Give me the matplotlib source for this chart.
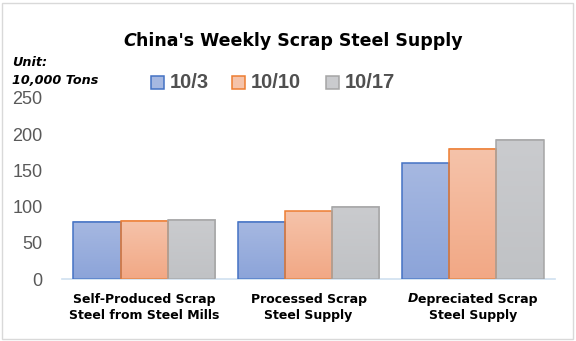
import numpy as np
import matplotlib
matplotlib.use("Agg")
import matplotlib.pyplot as plt
from matplotlib.patches import Rectangle
from matplotlib.colors import LinearSegmentedColormap

# ---- data (10,000 tons) ----
categories = ["Self-Produced Scrap\nSteel from Steel Mills",
              "Processed Scrap\nSteel Supply",
              "Depreciated Scrap\nSteel Supply"]
weeks = ["10/3", "10/10", "10/17"]
supply_10_3 = [79, 79, 160]
supply_10_10 = [80.5, 93.5, 180]
supply_10_17 = [82, 100, 192.5]
series = [supply_10_3, supply_10_10, supply_10_17]
yticks = [0, 50, 100, 150, 200, 250]

edge_colors = ["#4472c4", "#ed7d31", "#a5a5a5"]
grad_top = ["#a6b8e1", "#f5c3aa", "#cacbce"]
grad_bot = ["#8ca4d9", "#f2a885", "#c0c2c5"]

W, H = 576, 341
fig = plt.figure(figsize=(W / 100, H / 100), dpi=100)
fig.patch.set_facecolor("white")


def px(x, y):
    """pixel (from top-left) -> figure fraction"""
    return x / W, 1 - y / H


ax = fig.add_axes([62 / W, 1 - 279 / H, (555 - 62) / W, (279 - 98) / H])
ax.set_xlim(-0.5, 2.5)
ax.set_ylim(0, 250)

bar_w = 0.287
x = np.arange(len(categories))
for i, vals in enumerate(series):
    xs = x + (i - 1) * bar_w
    cmap = LinearSegmentedColormap.from_list(f"g{i}", [grad_bot[i], grad_top[i]])
    bars = ax.bar(xs, vals, width=bar_w, color="none",
                  edgecolor=edge_colors[i], linewidth=1.1, zorder=3)
    for b in bars:
        x0, y0 = b.get_x(), b.get_y()
        w, h = b.get_width(), b.get_height()
        grad = np.linspace(0, 1, 64).reshape(-1, 1)
        ax.imshow(grad, cmap=cmap, origin="lower", aspect="auto",
                  extent=(x0, x0 + w, y0, y0 + h), zorder=2,
                  interpolation="bilinear")
ax.set_xlim(-0.5, 2.5)
ax.set_ylim(0, 250)

for s in ["top", "right", "left"]:
    ax.spines[s].set_visible(False)
ax.spines["bottom"].set_color("#cfe0f0")
ax.spines["bottom"].set_linewidth(1.2)
ax.set_yticks(yticks)
ax.set_yticklabels([str(t) for t in yticks], fontsize=13,
                   color="#595959", family="Liberation Sans")
ax.tick_params(axis="y", length=0, pad=14)
ax.tick_params(axis="x", length=0, pad=8)
ax.set_xticks(x)
ax.set_xticklabels(["" for _ in categories])

# category labels (first letter of the last one is italic)
renderer = fig.canvas.get_renderer()


def rich_line(segments, cx, cy, size, color="black"):
    """Draw a line made of (text, style) pieces centred at figure point."""
    items = []
    for txt, style in segments:
        t = fig.text(0, cy, txt, fontsize=size, fontweight="bold",
                     fontstyle=style, family="DejaVu Sans", color=color,
                     va="center", ha="left")
        items.append(t)
    widths = [t.get_window_extent(renderer).width / W for t in items]
    start = cx - sum(widths) / 2
    for t, w in zip(items, widths):
        t.set_x(start)
        start += w


for xi, label in zip(x, categories):
    cx = ax.transData.transform((xi, 0))[0] / W
    lines = label.split("\n")
    for j, line in enumerate(lines):
        cy = 1 - (299 + 16.7 * j) / H
        if line.startswith("Depreciated"):
            rich_line([("D", "italic"), (line[1:], "normal")], cx, cy, 9)
        else:
            rich_line([(line, "normal")], cx, cy, 9)

# title with italic first letter
rich_line([("C", "italic"), ("hina's Weekly Scrap Steel Supply", "normal")],
          293 / W, 1 - 41 / H, 12.5)

# unit note
fig.text(*px(12, 62), "Unit:", fontsize=9.2, fontweight="bold",
         fontstyle="italic", family="DejaVu Sans", va="center")
fig.text(*px(12, 80), "10,000 Tons", fontsize=9.2, fontweight="bold",
         fontstyle="italic", family="DejaVu Sans", va="center")

# legend
leg_x = [151, 232, 326]
for i, (lx, wk) in enumerate(zip(leg_x, weeks)):
    fx, fy = px(lx, 89)
    fig.patches.append(Rectangle((fx, fy), 13 / W, 13 / H,
                                 transform=fig.transFigure,
                                 facecolor=grad_top[i], edgecolor=edge_colors[i],
                                 linewidth=1.1))
    fig.text(*px(lx + 19, 82.5), wk, fontsize=14.5, fontweight="bold",
             family="Liberation Sans", color="#505050", va="center")

# outer frame
fig.patches.append(Rectangle((2 / W, 2 / H), 1 - 5 / W, 1 - 5 / H,
                             transform=fig.transFigure, fill=False,
                             edgecolor="#d9d9d9", linewidth=1.0))

fig.savefig("out.png", dpi=100)
